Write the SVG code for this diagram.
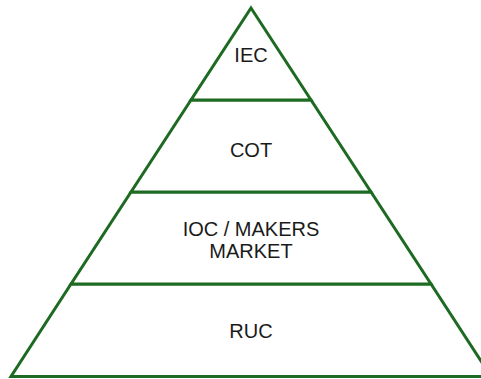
<svg xmlns="http://www.w3.org/2000/svg" width="481" height="379" viewBox="0 0 481 379">
<style>
.layer{fill:#ffffff;stroke:#1d6a22;stroke-width:3;stroke-linejoin:miter}
.lbl{font-family:"Liberation Sans",Arial,sans-serif;font-size:20px;fill:#1a1a1a;text-anchor:middle}
</style>
<rect width="481" height="379" fill="#ffffff"/>
<g id="ruc">
<polygon class="layer" points="71,284 431,284 491,376.5 11,376.5"/>
<text class="lbl" x="251" y="337.5">RUC</text>
</g>
<g id="ioc">
<polygon class="layer" points="131,192 371,192 431,284 71,284"/>
<text class="lbl" x="251" y="236">IOC / MAKERS</text>
<text class="lbl" x="251" y="258">MARKET</text>
</g>
<g id="cot">
<polygon class="layer" points="191,100 311,100 371,192 131,192"/>
<text class="lbl" x="251" y="157">COT</text>
</g>
<g id="iec">
<polygon class="layer" points="251,8 311,100 191,100"/>
<text class="lbl" x="251" y="62">IEC</text>
</g>
<g id="connectors"></g>
</svg>
